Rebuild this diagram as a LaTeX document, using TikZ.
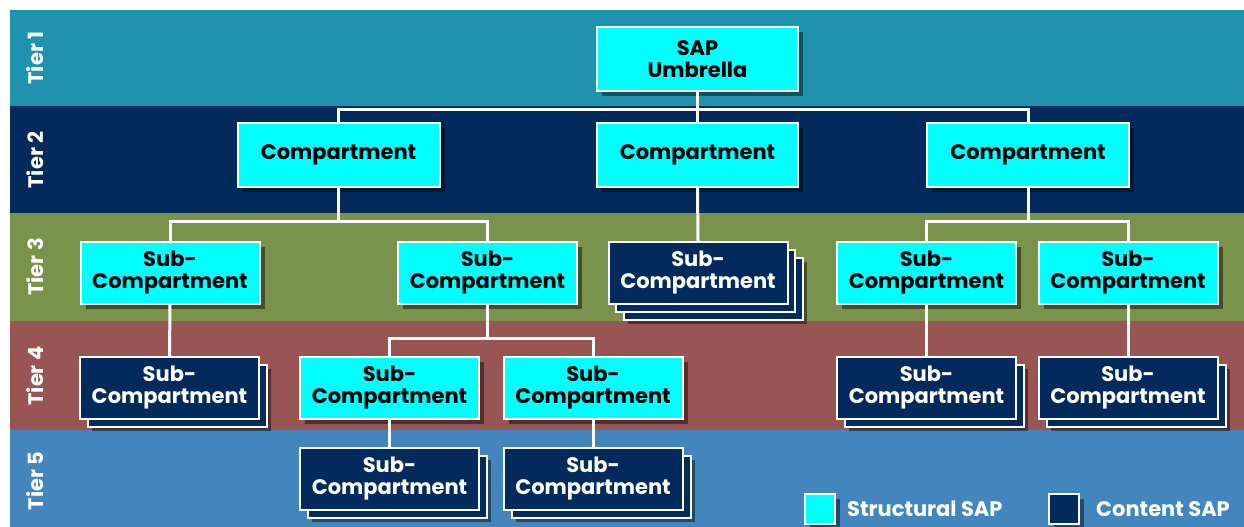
\documentclass[tikz,border=0pt]{standalone}
\usepackage{fontspec}
\setmainfont{Poppins}
\usetikzlibrary{positioning,shadows}

\definecolor{tierun}{RGB}{31,147,173}
\definecolor{tierdeux}{RGB}{3,42,92}
\definecolor{tiertrois}{RGB}{121,146,76}
\definecolor{tierquatre}{RGB}{153,85,83}
\definecolor{tiercinq}{RGB}{67,134,189}
\definecolor{bleunuit}{RGB}{3,42,92}
\definecolor{cyanvif}{RGB}{0,255,255}

\begin{document}
\begin{tikzpicture}[x=1pt, y=-1pt]
	\tikzset{boite/.style={rectangle, draw=white, line width=2pt, inner sep=0pt, minimum width=179pt, minimum height=62pt, align=center, font=\bfseries\fontsize{21}{22}\selectfont},
		ombre/.style={drop shadow={shadow xshift=5pt, shadow yshift=-5pt, opacity=0.45, fill=black}},
		structurel/.style={boite, ombre, fill=cyanvif, text=black},
		contenu/.style={boite, fill=bleunuit, text=white},
		simple/.style={contenu, drop shadow={shadow xshift=12pt, shadow yshift=-12pt, opacity=0.45, fill=black}, copy shadow={shadow xshift=8pt, shadow yshift=-8pt, fill=bleunuit, draw=white, line width=2pt}},
		triple/.style={contenu, drop shadow={shadow xshift=19pt, shadow yshift=-20pt, opacity=0.45, fill=black}, copy shadow={shadow xshift=15pt, shadow yshift=-16pt, fill=bleunuit, draw=white, line width=2pt}, copy shadow={shadow xshift=7pt, shadow yshift=-8pt, fill=bleunuit, draw=white, line width=2pt}},
		lien/.style={draw=white, line width=3pt},
		etiquette/.style={rotate=90, text=white, font=\bfseries\fontsize{21}{21}\selectfont},
		legende/.style={anchor=west, inner sep=0pt, text=white, font=\bfseries\fontsize{21}{21}\selectfont},
		carre/.style={rectangle, draw=white, line width=2pt, minimum size=30pt, inner sep=0pt, ombre}};

	\useasboundingbox (0,0) rectangle (1244,527);

	\fill[tierun]     (10, 10) rectangle (1244,106);
	\fill[tierdeux]   (10,106) rectangle (1244,213);
	\fill[tiertrois]  (10,213) rectangle (1244,321);
	\fill[tierquatre] (10,321) rectangle (1244,430);
	\fill[tiercinq]   (10,430) rectangle (1244,527);

	\node[etiquette] (t1) at (35, 58) {Tier 1};
	\node[etiquette] (t2) at (35,160) {Tier 2};
	\node[etiquette] (t3) at (35,267) {Tier 3};
	\node[etiquette] (t4) at (35,376) {Tier 4};
	\node[etiquette] (t5) at (35,481) {Tier 5};

	\node[structurel, minimum width=201pt, minimum height=64pt] (umbrella) at (697.5, 59) {SAP\\Umbrella};

	\node[structurel, minimum width=202pt, minimum height=64pt] (compL) at ( 338.5, 155) {Compartment};
	\node[structurel, minimum width=201pt, minimum height=64pt] (compM) at ( 697.5, 155) {Compartment};
	\node[structurel, minimum width=202pt, minimum height=64pt] (compR) at (1028,   155) {Compartment};

	\node[structurel] (subA)  at ( 170,   273) {Sub-\\Compartment};
	\node[structurel] (subB)  at ( 487.5, 273) {Sub-\\Compartment};
	\node[triple]     (subM)  at ( 698,   273) {Sub-\\Compartment};
	\node[structurel] (subC)  at ( 926.5, 273) {Sub-\\Compartment};
	\node[structurel] (subD)  at (1128,   273) {Sub-\\Compartment};

	\node[simple]     (subAa) at ( 169.5, 388) {Sub-\\Compartment};
	\node[structurel] (subBa) at ( 389.5, 388) {Sub-\\Compartment};
	\node[structurel] (subBb) at ( 593,   388) {Sub-\\Compartment};
	\node[simple]     (subCa) at ( 926.5, 388) {Sub-\\Compartment};
	\node[simple]     (subDa) at (1128,   388) {Sub-\\Compartment};

	\node[simple] (subBaa) at (389.5, 479) {Sub-\\Compartment};
	\node[simple] (subBbb) at (593,   479) {Sub-\\Compartment};

	\draw[lien] (umbrella.south) -- ++(0,17) -| (compL.north);
	\draw[lien] (umbrella.south) -- ++(0,17) -| (compR.north);
	\draw[lien] (umbrella.south) -- (compM.north);

	\draw[lien] (compL.south) -- ++(0,33) -| (subA.north);
	\draw[lien] (compL.south) -- ++(0,33) -| (subB.north);
	\draw[lien] (compM.south) -- (subM.north);
	\draw[lien] (compR.south) -- ++(0,33) -| (subC.north);
	\draw[lien] (compR.south) -- ++(0,33) -| (subD.north);

	\draw[lien] (subA.south) -- (subAa.north);
	\draw[lien] (subB.south) -- ++(0,33) -| (subBa.north);
	\draw[lien] (subB.south) -- ++(0,33) -| (subBb.north);
	\draw[lien] (subC.south) -- (subCa.north);
	\draw[lien] (subD.south) -- (subDa.north);

	\draw[lien] (subBa.south) -- (subBaa.north);
	\draw[lien] (subBb.south) -- (subBbb.north);

	\node[carre, fill=cyanvif] (keyS) at ( 820, 509) {};
	\node[legende, right=11pt of keyS] (labS) {Structural SAP};
	\node[carre, fill=bleunuit] (keyC) at (1064, 509) {};
	\node[legende, right=16pt of keyC] (labC) {Content SAP};

\end{tikzpicture}
\end{document}
